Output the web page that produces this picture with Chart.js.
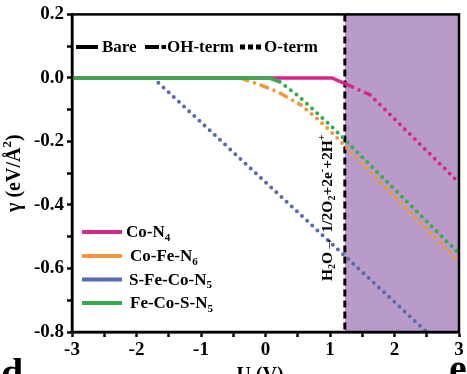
<!DOCTYPE html>
<html>
<head>
<meta charset="utf-8">
<script src="https://cdn.jsdelivr.net/npm/chart.js@4.4.1/dist/chart.umd.min.js"></script>
<style>
  body { margin: 0; background: #fff; }
  canvas { display: block; }
</style>
</head>
<body>
<canvas id="myChart" width="467" height="374"></canvas>
<script>
// U (V) vs surface free energy gamma (eV/A^2)
const xTicks = [-3, -2, -1, 0, 1, 2, 3];
const yTicks = [0.2, 0.0, -0.2, -0.4, -0.6, -0.8];
const oerPotential = 1.23;

const materials = ["Co-N4", "Co-Fe-N6", "S-Fe-Co-N5", "Fe-Co-S-N5"];
const colors = ["#d92788", "#f0973f", "#5b6aae", "#35ad4e"];

// Co-N4
const coN4Bare = [{x: -3, y: 0}, {x: 1.03, y: 0}, {x: 1.23, y: -0.018}];
const coN4OH = [{x: 1.23, y: -0.018}, {x: 1.62, y: -0.053}];
const coN4O = [{x: 1.62, y: -0.053}, {x: 3, y: -0.33}];
// Co-Fe-N6
const coFeBare = [{x: -3, y: 0}, {x: -0.4, y: 0}];
const coFeOH = [{x: -0.4, y: 0}, {x: -0.1, y: -0.02}, {x: 0.2, y: -0.045}, {x: 0.55, y: -0.085}];
const coFeO = [{x: 0.55, y: -0.085}, {x: 0.8, y: -0.128}, {x: 1.0, y: -0.166}, {x: 3, y: -0.58}];
// S-Fe-Co-N5
const sFeBare = [{x: -3, y: 0}, {x: -1.74, y: 0}];
const sFeO = [{x: -1.74, y: 0}, {x: 2.5, y: -0.8}];
// Fe-Co-S-N5
const feCoBare = [{x: -3, y: 0}, {x: 0.05, y: 0}, {x: 0.22, y: -0.012}];
const feCoO = [{x: 0.22, y: -0.012}, {x: 0.5, y: -0.055}, {x: 1.0, y: -0.148}, {x: 3, y: -0.553}];

const FONT = "'Liberation Serif', 'Times New Roman', serif";

function seg(data, color, kind) {
    var ds = {
        data: data,
        borderColor: color,
        borderWidth: 3.5,
        pointRadius: 0,
        tension: 0,
        fill: false,
        borderCapStyle: "butt"
    };
    if (kind == "oh") {
        ds.borderDash = [10, 4, 3, 4];
    } else if (kind == "o") {
        ds.borderDash = [0, 7];
        ds.borderWidth = 4;
        ds.borderCapStyle = "round";
    }
    return ds;
}

// draw text with sub/superscripts, parts = [[text, "sub"|"sup"|""], ...]
function richText(ctx, parts, x, y, size) {
    var cx = x;
    parts.forEach(function (p) {
        var small = p[1] == "sub" || p[1] == "sup";
        ctx.font = "bold " + (small ? size * 0.65 : size) + "px " + FONT;
        var dy = p[1] == "sub" ? size * 0.28 : (p[1] == "sup" ? -size * 0.38 : 0);
        ctx.fillText(p[0], cx, y + dy);
        cx += ctx.measureText(p[0]).width;
    });
    return cx - x;
}

function richWidth(ctx, parts, size) {
    var w = 0;
    parts.forEach(function (p) {
        var small = p[1] == "sub" || p[1] == "sup";
        ctx.font = "bold " + (small ? size * 0.65 : size) + "px " + FONT;
        w += ctx.measureText(p[0]).width;
    });
    return w;
}

const legendNames = [
    [["Co-N", ""], ["4", "sub"]],
    [["Co-Fe-N", ""], ["6", "sub"]],
    [["S-Fe-Co-N", ""], ["5", "sub"]],
    [["Fe-Co-S-N", ""], ["5", "sub"]]
];

const decorPlugin = {
    id: "decor",
    beforeDatasetsDraw(chart) {
        const ctx = chart.ctx;
        const a = chart.chartArea;
        const xs = chart.scales.x;
        const xp = xs.getPixelForValue(oerPotential);
        ctx.save();
        ctx.fillStyle = "#b99bc9";
        ctx.fillRect(xp, a.top, a.right - xp, a.bottom - a.top);
        ctx.strokeStyle = "#000";
        ctx.lineWidth = 3;
        ctx.setLineDash([7, 4]);
        ctx.beginPath();
        ctx.moveTo(xp, a.top);
        ctx.lineTo(xp, a.bottom);
        ctx.stroke();
        ctx.restore();
    },
    afterDraw(chart) {
        const ctx = chart.ctx;
        const a = chart.chartArea;
        ctx.save();
        ctx.strokeStyle = "#000";
        ctx.lineWidth = 2.5;
        ctx.strokeRect(a.left, a.top, a.right - a.left, a.bottom - a.top);

        ctx.fillStyle = "#000";
        ctx.textBaseline = "middle";

        // line style legend at top
        var ly = 47;
        ctx.lineWidth = 4;
        ctx.beginPath(); ctx.moveTo(76, ly); ctx.lineTo(98, ly); ctx.stroke();
        ctx.beginPath(); ctx.moveTo(145, ly); ctx.lineTo(159, ly); ctx.moveTo(161.5, ly); ctx.lineTo(166, ly); ctx.stroke();
        for (var i = 0; i < 3; i++) ctx.fillRect(240 + i * 8, ly - 2.5, 5, 5);
        ctx.font = "bold 17px " + FONT;
        ctx.fillText("Bare", 102, ly + 1);
        ctx.fillText("OH-term", 167, ly + 1);
        ctx.fillText("O-term", 264, ly + 1);

        // material legend
        var rows = [232, 256, 279.5, 303];
        var textX = [126, 130, 129, 130];
        materials.forEach(function (m, k) {
            ctx.strokeStyle = colors[k];
            ctx.lineWidth = 4;
            ctx.beginPath(); ctx.moveTo(82, rows[k]); ctx.lineTo(122, rows[k]); ctx.stroke();
            ctx.fillStyle = "#000";
            richText(ctx, legendNames[k], textX[k], rows[k] + 1, 17);
        });

        // reaction label along the dashed line
        var rx = chart.scales.x.getPixelForValue(oerPotential) - 17;
        var reaction = [["H", ""], ["2", "sub"], ["O\u2192 1/2O", ""], ["2", "sub"], ["+2e", ""], ["-", "sup"], ["+2H", ""], ["+", "sup"]];
        ctx.translate(rx, 281);
        ctx.rotate(-Math.PI / 2);
        richText(ctx, reaction, 0, 0, 15.5);
        ctx.setTransform(1, 0, 0, 1, 0, 0);

        // y axis title
        var yt = [["\u03b3 (eV/\u00c5", ""], ["2", "sup"], [")", ""]];
        var w = richWidth(ctx, yt, 20);
        ctx.translate(15, (a.top + a.bottom) / 2 + w / 2);
        ctx.rotate(-Math.PI / 2);
        richText(ctx, yt, 0, 0, 20);
        ctx.setTransform(1, 0, 0, 1, 0, 0);

        // x axis title (cut by the figure edge)
        ctx.textAlign = "center";
        ctx.textBaseline = "top";
        ctx.font = "bold 20px " + FONT;
        ctx.fillText("U (V)", 260, 366);

        // neighbouring panel letters
        ctx.textBaseline = "alphabetic";
        ctx.textAlign = "left";
        ctx.font = "bold 40px " + FONT;
        ctx.fillText("d", 1, 386);
        ctx.fillText("e", 449, 382);
        ctx.restore();
    }
};

const tickFont = { family: FONT, size: 19, weight: "bold" };

// chart.js paints lower indexes on top, so the green set comes first
new Chart("myChart", {
    type: "line",
    data: {
        datasets: [
            seg(feCoBare, colors[3], "bare"),
            seg(feCoO, colors[3], "o"),
            seg(coN4Bare, colors[0], "bare"),
            seg(coN4OH, colors[0], "oh"),
            seg(coN4O, colors[0], "o"),
            seg(coFeBare, colors[1], "bare"),
            seg(coFeOH, colors[1], "oh"),
            seg(coFeO, colors[1], "o"),
            seg(sFeBare, colors[2], "bare"),
            seg(sFeO, colors[2], "o")
        ]
    },
    options: {
        responsive: false,
        devicePixelRatio: 1,
        animation: false,
        layout: { padding: { top: 11, right: 8, left: 0, bottom: 0 } },
        plugins: { legend: { display: false }, tooltip: { enabled: false } },
        scales: {
            x: {
                type: "linear",
                min: xTicks[0],
                max: xTicks[xTicks.length - 1],
                afterFit: function (s) { s.height = 42; },
                ticks: {
                    stepSize: 0.5,
                    autoSkip: false,
                    maxRotation: 0,
                    padding: 2,
                    color: "#000",
                    font: tickFont,
                    callback: function (v) {
                        var r = Math.round(v);
                        return Math.abs(v - r) < 1e-6 && xTicks.indexOf(r) >= 0 ? String(r) : "";
                    }
                },
                grid: {
                    drawOnChartArea: false,
                    tickLength: 5,
                    tickColor: "#000",
                    tickWidth: 2.5
                },
                border: { color: "#000", width: 2.5 }
            },
            y: {
                type: "linear",
                min: yTicks[yTicks.length - 1],
                max: yTicks[0],
                afterFit: function (s) { s.width = 72; },
                ticks: {
                    stepSize: 0.1,
                    autoSkip: false,
                    padding: 3,
                    color: "#000",
                    font: tickFont,
                    callback: function (v) {
                        var n = Math.round(v * 10);
                        if (n % 2 != 0) return "";
                        if (n == 0) return "0.0";
                        return (n / 10).toFixed(1);
                    }
                },
                grid: {
                    drawOnChartArea: false,
                    tickLength: 5,
                    tickColor: "#000",
                    tickWidth: 2.5
                },
                border: { color: "#000", width: 2.5 }
            }
        }
    },
    plugins: [decorPlugin]
});
</script>
</body>
</html>
